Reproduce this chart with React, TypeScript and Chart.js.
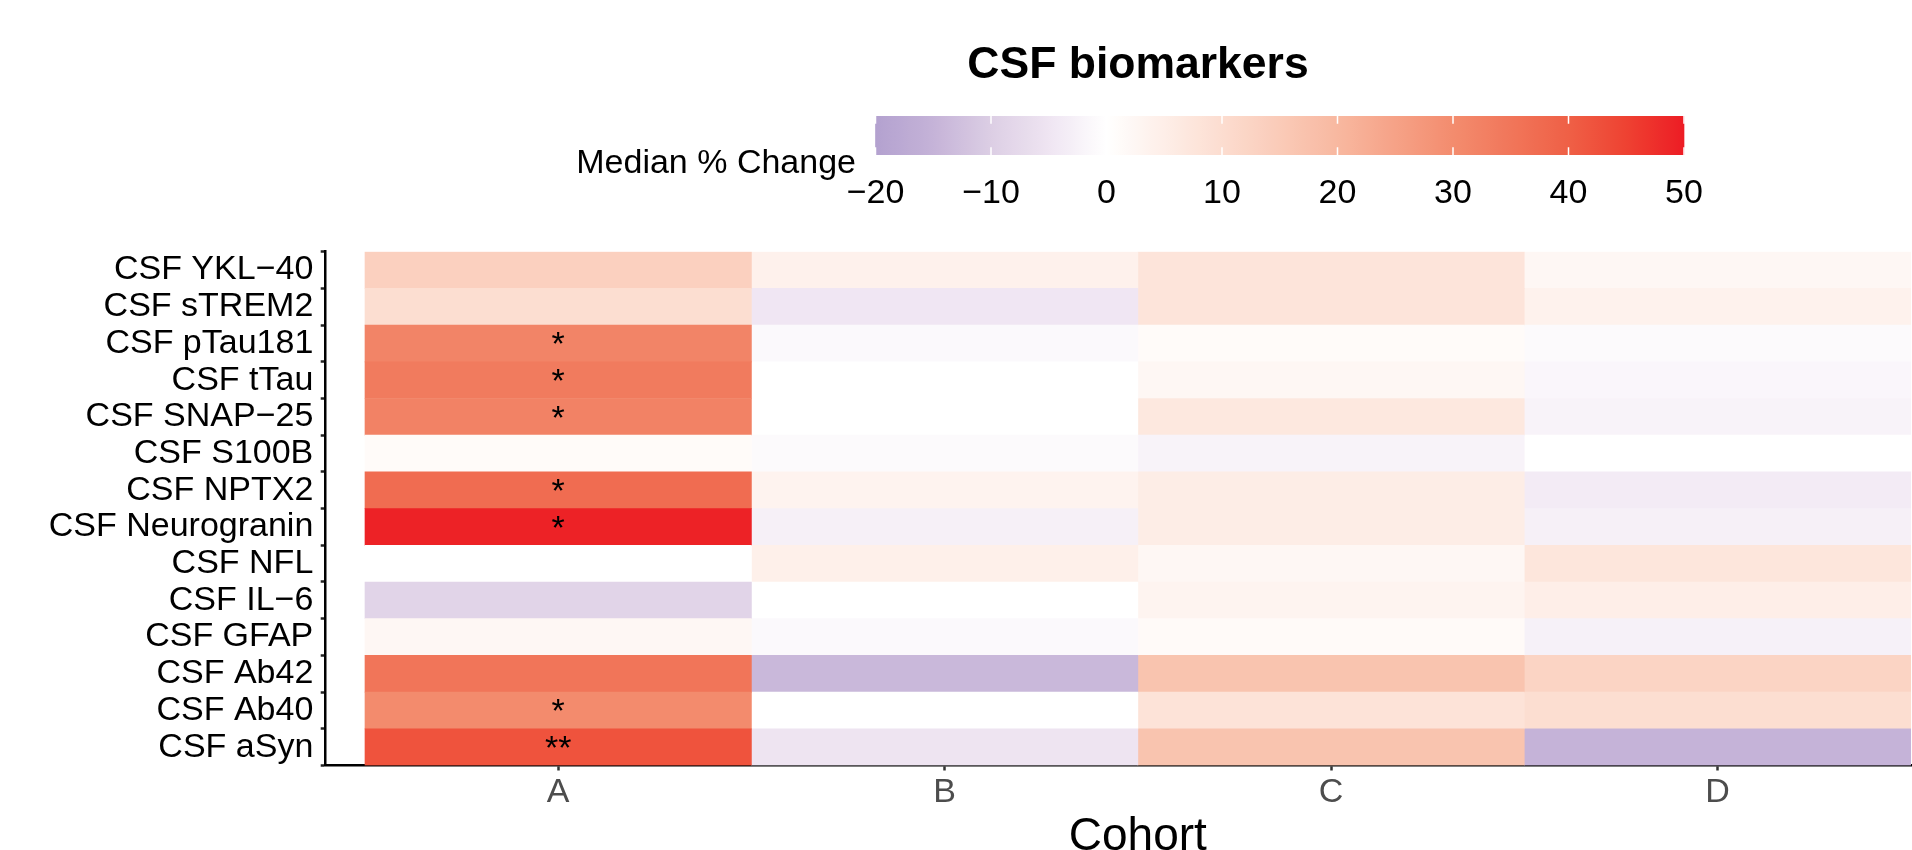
import React, { useEffect, useRef } from "react";
import { Chart, registerables } from "chart.js";

Chart.register(...registerables);

// ---------------- data ----------------
const chartTitle = "CSF biomarkers";
const legendTitle = "Median % Change";
const xAxisTitle = "Cohort";

const biomarkers = [
  "CSF YKL−40",
  "CSF sTREM2",
  "CSF pTau181",
  "CSF tTau",
  "CSF SNAP−25",
  "CSF S100B",
  "CSF NPTX2",
  "CSF Neurogranin",
  "CSF NFL",
  "CSF IL−6",
  "CSF GFAP",
  "CSF Ab42",
  "CSF Ab40",
  "CSF aSyn",
];

const cohorts = ["A", "B", "C", "D"];

const cohortA = [13.5, 9.7, 31.8, 33.9, 32.3, 1.2, 37.3, 49.2, 0, -8.7, 2.4, 35.2, 30.2, 42.2];
const cohortB = [4.1, -4.8, -1.2, 0, 0, -1, 3.5, -2.9, 4.4, 0, -1.2, -14.1, 0, -5.2];
const cohortC = [7.9, 7.9, 1.2, 2.4, 6.8, -2.3, 5.3, 5.3, 2.4, 3.2, 1.5, 16.8, 8.2, 16.8];
const cohortD = [2.4, 3.8, -1, -1.7, -2.3, 0, -3.8, -2.9, 7.4, 5, -2.7, 12.4, 9.7, -15];

const significanceA = ["", "", "*", "*", "*", "", "*", "*", "", "", "", "", "*", "**"];

const legendMin = -20;
const legendMax = 50;
const legendStep = 10;

// colour palette (value -> rgb)
const paletteValues = [-20, -15, -10, -5, 0, 10, 20, 30, 40, 45, 50];
const paletteColors = [
  [179, 161, 207],
  [197, 179, 216],
  [220, 206, 228],
  [239, 229, 242],
  [255, 255, 255],
  [252, 221, 208],
  [248, 184, 160],
  [243, 140, 110],
  [239, 96, 70],
  [238, 66, 50],
  [237, 28, 36],
];

function colorFor(v: number) {
  const vals = paletteValues;
  const x = Math.max(vals[0], Math.min(vals[vals.length - 1], v));
  let i = 0;
  while (i < vals.length - 2 && x > vals[i + 1]) i++;
  const t = (x - vals[i]) / (vals[i + 1] - vals[i]);
  const a = paletteColors[i], b = paletteColors[i + 1];
  const c = [0, 1, 2].map((k) => Math.round(a[k] + (b[k] - a[k]) * t));
  return `rgb(${c[0]},${c[1]},${c[2]})`;
}

// ---------------- layout constants ----------------
const FONT = "'Liberation Sans', Arial, Helvetica, sans-serif";
const CANVAS_W = 1960;
const CANVAS_H = 900;
const AREA_LEFT = 325.7;
const AREA_TOP = 251.7;
const AREA_BOTTOM = 765.5;
const AREA_RIGHT = 1950;
const X_GAP = 0.1017;

const LEG_LEFT = 326;
const LEG_W = 1624;
const LEG_H = 240;
const BAR_LEFT = 875.5;
const BAR_RIGHT = 1684;
const BAR_BOTTOM = 155;

const asteriskPlugin = {
  id: "asterisks",
  afterDatasetsDraw(chart: any) {
    const ctx = chart.ctx;
    const xs = chart.scales.x;
    const ys = chart.scales.y;
    ctx.save();
    ctx.fillStyle = "#000";
    ctx.font = `34px ${FONT}`;
    ctx.textAlign = "center";
    ctx.textBaseline = "alphabetic";
    significanceA.forEach((s, i) => {
      if (!s) return;
      const x = xs.getPixelForValue(0);
      const y = ys.getPixelForValue(i) + 12;
      ctx.fillText(s, x, y);
    });
    ctx.restore();
  },
};

const colorbarPlugin = {
  id: "colorbarDecor",
  afterDatasetsDraw(chart: any) {
    const ctx = chart.ctx;
    const xs = chart.scales.x;
    const meta = chart.getDatasetMeta(0);
    const bar = meta.data[0];
    if (!bar) return;
    const top = bar.y - bar.height / 2;
    const bottom = bar.y + bar.height / 2;
    const h = bottom - top;
    ctx.save();
    ctx.strokeStyle = "#ffffff";
    ctx.lineWidth = 1.5;
    xs.ticks.forEach((t: any) => {
      const x = xs.getPixelForValue(t.value);
      ctx.beginPath();
      ctx.moveTo(x, top);
      ctx.lineTo(x, top + h / 5);
      ctx.moveTo(x, bottom - h / 5);
      ctx.lineTo(x, bottom);
      ctx.stroke();
    });
    ctx.fillStyle = "#000";
    ctx.font = `34px ${FONT}`;
    ctx.textAlign = "right";
    ctx.textBaseline = "alphabetic";
    ctx.fillText(legendTitle, xs.getPixelForValue(legendMin) - 19.5, bottom + 17.7);
    ctx.restore();
  },
};

export default function App() {
  const mainRef = useRef<HTMLCanvasElement>(null);
  const legRef = useRef<HTMLCanvasElement>(null);

  useEffect(() => {
    const cohortValues = [cohortA, cohortB, cohortC, cohortD];
    const datasets = cohortValues.map((vals, ci) => ({
      label: cohorts[ci],
      data: vals.map(() => [ci - 0.5, ci + 0.5]),
      backgroundColor: vals.map((v) => colorFor(v)),
      borderWidth: 0,
      barPercentage: 1,
      categoryPercentage: 1,
      grouped: false,
    }));

    const main = new Chart(mainRef.current as HTMLCanvasElement, {
      type: "bar",
      data: { labels: biomarkers, datasets: datasets as any },
      options: {
        indexAxis: "y",
        animation: false,
        responsive: false,
        maintainAspectRatio: false,
        layout: { padding: { top: AREA_TOP, right: CANVAS_W - AREA_RIGHT, bottom: 0, left: 0 } },
        plugins: {
          legend: { display: false },
          tooltip: { enabled: false },
          title: { display: false },
        },
        scales: {
          x: {
            type: "linear",
            min: -0.5 - X_GAP,
            max: cohorts.length - 0.5 + X_GAP,
            afterBuildTicks: (s: any) => {
              s.ticks = cohorts.map((_, i) => ({ value: i }));
            },
            afterFit: (s: any) => {
              s.height = CANVAS_H - AREA_BOTTOM;
            },
            ticks: {
              callback: (v: any) => cohorts[Math.round(Number(v))] ?? "",
              font: { family: FONT, size: 34 },
              color: "#4d4d4d",
              padding: 2,
              maxRotation: 0,
              autoSkip: false,
            },
            grid: {
              display: true,
              drawOnChartArea: false,
              drawTicks: true,
              tickLength: 5,
              tickColor: "#333333",
              tickWidth: 2.5,
            },
            border: { display: true, color: "#000", width: 2.5 },
            title: {
              display: true,
              text: xAxisTitle,
              font: { family: FONT, size: 46 },
              color: "#000",
              padding: { top: 0, bottom: 35.4 },
            },
          },
          y: {
            type: "category",
            offset: true,
            afterFit: (s: any) => {
              s.width = AREA_LEFT;
            },
            ticks: {
              font: { family: FONT, size: 34 },
              color: "#000",
              padding: 7.4,
              autoSkip: false,
            },
            grid: {
              display: true,
              drawOnChartArea: false,
              drawTicks: true,
              tickLength: 5,
              tickColor: "#222222",
              tickWidth: 2.5,
            },
            border: { display: true, color: "#000", width: 2.5 },
          },
        },
      } as any,
      plugins: [asteriskPlugin],
    });

    // colour-bar legend: the x scale is widened so that the title centres on the panel
    const ppu = (BAR_RIGHT - BAR_LEFT) / (legendMax - legendMin);
    const legXMin = legendMin - (BAR_LEFT - LEG_LEFT) / ppu;
    const legXMax = legendMax + (LEG_LEFT + LEG_W - BAR_RIGHT) / ppu;

    const legend = new Chart(legRef.current as HTMLCanvasElement, {
      type: "bar",
      data: {
        labels: [legendTitle],
        datasets: [
          {
            data: [[legendMin, legendMax]] as any,
            backgroundColor: (c: any) => {
              const chart = c.chart;
              const xs = chart.scales?.x;
              if (!chart.chartArea || !xs) return colorFor(0);
              const x0 = xs.getPixelForValue(legendMin);
              const x1 = xs.getPixelForValue(legendMax);
              const g = chart.ctx.createLinearGradient(x0, 0, x1, 0);
              for (let v = legendMin; v <= legendMax; v += 1) {
                g.addColorStop((v - legendMin) / (legendMax - legendMin), colorFor(v));
              }
              return g;
            },
            borderWidth: 0,
            barPercentage: 1,
            categoryPercentage: 1,
          },
        ],
      },
      options: {
        indexAxis: "y",
        animation: false,
        responsive: false,
        maintainAspectRatio: false,
        layout: { padding: 0 },
        plugins: {
          legend: { display: false },
          tooltip: { enabled: false },
          title: {
            display: true,
            text: chartTitle,
            font: { family: FONT, size: 44.5, weight: "bold" },
            color: "#000",
            padding: { top: 39.3, bottom: 23.3 },
          },
        },
        scales: {
          x: {
            type: "linear",
            min: legXMin,
            max: legXMax,
            afterBuildTicks: (s: any) => {
              const t: any[] = [];
              for (let v = legendMin; v <= legendMax; v += legendStep) t.push({ value: v });
              s.ticks = t;
            },
            afterFit: (s: any) => {
              s.height = LEG_H - BAR_BOTTOM;
            },
            ticks: {
              callback: (v: any) => String(Math.round(Number(v))).replace("-", "−"),
              font: { family: FONT, size: 34 },
              color: "#000",
              padding: 10.7,
              maxRotation: 0,
              autoSkip: false,
            },
            grid: { display: false },
            border: { display: false },
          },
          y: { display: false, offset: true },
        },
      } as any,
      plugins: [colorbarPlugin],
    });

    return () => {
      main.destroy();
      legend.destroy();
    };
  }, []);

  return (
    <div
      style={{
        position: "fixed",
        left: 0,
        top: 0,
        width: 1912,
        height: 850,
        overflow: "hidden",
        background: "#ffffff",
      }}
    >
      <canvas
        ref={mainRef}
        width={CANVAS_W}
        height={CANVAS_H}
        style={{ position: "absolute", left: 0, top: 0, width: CANVAS_W, height: CANVAS_H }}
      />
      <canvas
        ref={legRef}
        width={LEG_W}
        height={LEG_H}
        style={{ position: "absolute", left: LEG_LEFT, top: 0, width: LEG_W, height: LEG_H }}
      />
    </div>
  );
}
